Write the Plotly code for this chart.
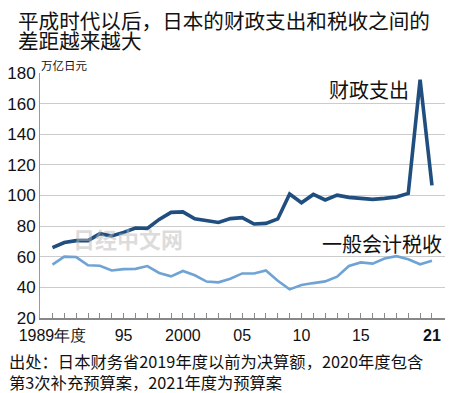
import plotly.graph_objects as go

years = list(range(1989, 2022))
expenditure = [65.9, 69.3, 70.5, 70.5, 75.1, 73.6, 75.9, 78.8, 78.5, 84.4,
               89.0, 89.3, 84.8, 83.7, 82.4, 84.9, 85.5, 81.4, 81.8, 84.7,
               101.0, 95.3, 100.7, 97.1, 100.2, 98.8, 98.2, 97.5, 98.1, 99.0,
               101.4, 175.7, 106.6]
tax = [54.9, 60.1, 59.8, 54.4, 54.1, 51.0, 51.9, 52.1, 53.9, 49.4,
       47.2, 50.7, 47.9, 43.8, 43.3, 45.6, 49.1, 49.1, 51.0, 44.3,
       38.7, 41.5, 42.8, 43.9, 47.0, 54.0, 56.3, 55.5, 58.8, 60.4,
       58.4, 55.1, 57.4]
y_ticks = [20, 40, 60, 80, 100, 120, 140, 160, 180]
x_labels = {1989: "1989年度", 1995: "95", 2000: "2000", 2005: "05",
            2010: "10", 2015: "15", 2021: "<b>21</b>"}

title_lines = ["平成时代以后，日本的财政支出和税收之间的", "差距越来越大"]
unit = "万亿日元"
name_exp = "财政支出"
name_tax = "一般会计税收"
source_lines = ["出处：日本财务省2019年度以前为决算额，2020年度包含",
                "第3次补充预算案，2021年度为预算案"]
watermark = "日经中文网"

W, H = 450, 393
L, R, T, B = 40, 5, 73, 75
PW, PH = W - L - R, H - T - B

def px(x):
    return (x - L) / PW

def py(y):
    return (H - B - y) / PH

CJK = "Noto Sans CJK SC, sans-serif"
NUM = "Liberation Sans, Arial, sans-serif"

fig = go.Figure()
fig.add_trace(go.Scatter(x=years, y=tax, mode="lines",
                         line=dict(color="#6fa3d4", width=2.6), name=name_tax))
fig.add_trace(go.Scatter(x=years, y=expenditure, mode="lines",
                         line=dict(color="#1f4e7f", width=3.6), name=name_exp))

ann = []
for i, t in enumerate(title_lines):
    ann.append(dict(text=t, x=px(16), y=py(19.5 + i * 20.5), xref="paper", yref="paper",
                    xanchor="left", yanchor="middle", showarrow=False,
                    font=dict(family=CJK, size=20.6, color="#111")))
ann.append(dict(text=unit, x=px(39), y=py(65), xref="paper", yref="paper",
                xanchor="left", yanchor="middle", showarrow=False,
                font=dict(family=CJK, size=11.5, color="#111")))
ann.append(dict(text=name_exp, x=px(411), y=py(89), xref="paper", yref="paper",
                xanchor="right", yanchor="middle", showarrow=False,
                font=dict(family=CJK, size=20, color="#111")))
ann.append(dict(text=name_tax, x=px(444), y=py(244), xref="paper", yref="paper",
                xanchor="right", yanchor="middle", showarrow=False,
                font=dict(family=CJK, size=20, color="#111")))
ann.append(dict(text="<b>" + watermark + "</b>", x=px(128), y=py(238), xref="paper", yref="paper",
                xanchor="center", yanchor="middle", showarrow=False,
                font=dict(family=CJK, size=22, color="rgba(185,185,185,0.5)")))
for i, t in enumerate(source_lines):
    ann.append(dict(text=t, x=px(7), y=py(360.5 + i * 21), xref="paper", yref="paper",
                    xanchor="left", yanchor="middle", showarrow=False,
                    font=dict(family=CJK, size=16.3, color="#111")))

fig.update_layout(
    width=W, height=H,
    margin=dict(l=L, r=R, t=T, b=B, autoexpand=False),
    paper_bgcolor="white", plot_bgcolor="white",
    showlegend=False,
    annotations=ann,
    xaxis=dict(range=[1987.95, 2022.1], tickmode="array", tickvals=years,
               ticktext=[x_labels.get(y, "") for y in years],
               ticks="inside", ticklen=5, tickcolor="#888", tickwidth=1,
               showline=True, linecolor="#888", linewidth=1.5,
               showgrid=False, zeroline=False, automargin=False,
               ticklabelstandoff=2,
               tickfont=dict(family=NUM, size=16, color="#111")),
    yaxis=dict(range=[20, 180], tickmode="array", tickvals=y_ticks,
               showline=True, linecolor="#999", linewidth=1,
               showgrid=True, gridcolor="#cccccc", gridwidth=1,
               zeroline=False, ticks="", automargin=False,
               tickfont=dict(family=NUM, size=17, color="#111")),
)

fig.write_html("out.html", config={"displayModeBar": False},
               post_script="document.body.style.margin='0';document.body.style.padding='0';")
